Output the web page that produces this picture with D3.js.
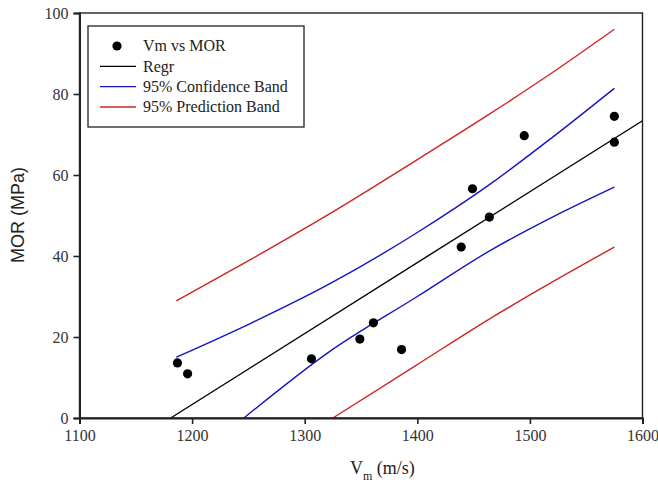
<!DOCTYPE html>
<html>
<head>
<meta charset="utf-8">
<script src="https://cdn.jsdelivr.net/npm/d3@7"></script>
<style>
  body { margin: 0; background: #fff; }
  svg { display: block; }
</style>
</head>
<body>
<div id="chart"></div>
<script>
// scatter points (Vm vs MOR)
const vm = [1187, 1196, 1306, 1349, 1361, 1386, 1439, 1449, 1464, 1495, 1575, 1575];
const mor = [13.6, 10.9, 14.6, 19.5, 23.5, 16.9, 42.2, 56.6, 49.6, 69.7, 74.5, 68.1];

// regression line, read at its two ends
const regrX = [1181, 1600];
const regrY = [0, 73.4];

// 95% confidence band
const confUpX = [1186, 1253, 1322, 1400, 1465, 1520, 1575];
const confUpY = [15.0, 23.5, 33.1, 45.8, 57.8, 69.3, 81.4];
const confLoX = [1246, 1322, 1400, 1465, 1520, 1575];
const confLoY = [0, 16.4, 30.0, 41.4, 49.6, 57.0];

// 95% prediction band
const predUpX = [1186, 1253, 1322, 1400, 1465, 1520, 1575];
const predUpY = [28.9, 39.3, 50.4, 63.8, 75.2, 85.3, 96.0];
const predLoX = [1325, 1400, 1465, 1520, 1575];
const predLoY = [0, 13.2, 24.6, 33.6, 42.2];

const xTicks = [1100, 1200, 1300, 1400, 1500, 1600];
const yTicks = [0, 20, 40, 60, 80, 100];

const legendItems = [
  { label: "Vm vs MOR", type: "dot", color: "#000" },
  { label: "Regr", type: "line", color: "#000" },
  { label: "95% Confidence Band", type: "line", color: "#1414c0" },
  { label: "95% Prediction Band", type: "line", color: "#d02424" }
];

const SERIF = "Liberation Serif";
const width = 658, height = 490;
const x = d3.scaleLinear().domain([1100, 1600]).range([79.5, 642.5]);
const y = d3.scaleLinear().domain([0, 100]).range([418, 13]);

const svg = d3.select("#chart").append("svg")
  .attr("width", width)
  .attr("height", height);

const line = d3.line().x(d => x(d[0])).y(d => y(d[1])).curve(d3.curveMonotoneX);

function drawSeries(xs, ys, color) {
  svg.append("path")
    .datum(d3.zip(xs, ys))
    .attr("fill", "none")
    .attr("stroke", color)
    .attr("stroke-width", 1.4)
    .attr("d", line);
}

drawSeries(predUpX, predUpY, "#d02424");
drawSeries(predLoX, predLoY, "#d02424");
drawSeries(confUpX, confUpY, "#1414c0");
drawSeries(confLoX, confLoY, "#1414c0");
drawSeries(regrX, regrY, "#000");

// points
svg.append("g")
  .selectAll("circle")
  .data(d3.zip(vm, mor))
  .join("circle")
  .attr("cx", d => x(d[0]))
  .attr("cy", d => y(d[1]))
  .attr("r", 4.6)
  .attr("fill", "#000");

// frame
svg.append("rect")
  .attr("x", x(1100)).attr("y", y(100))
  .attr("width", x(1600) - x(1100)).attr("height", y(0) - y(100))
  .attr("fill", "none").attr("stroke", "#222").attr("stroke-width", 1.4);

// axes
const xAxis = svg.append("g")
  .attr("transform", `translate(0,${y(0)})`)
  .call(d3.axisBottom(x).tickValues(xTicks).tickFormat(d3.format("d")).tickSize(6).tickPadding(6));
const yAxis = svg.append("g")
  .attr("transform", `translate(${x(1100)},0)`)
  .call(d3.axisLeft(y).tickValues(yTicks).tickFormat(d3.format("d")).tickSize(6).tickPadding(5));

[xAxis, yAxis].forEach(a => {
  a.attr("font-family", SERIF).attr("font-size", 16);
  a.select(".domain").attr("stroke", "#222").attr("stroke-width", 2);
  a.selectAll(".tick line").attr("stroke", "#222").attr("stroke-width", 1.6);
  a.selectAll(".tick text")
    .attr("fill", "#333")
    .attr("font-family", SERIF)
    .attr("font-size", 16);
});

// axis titles
const xt = svg.append("text")
  .attr("x", 350)
  .attr("y", 474)
  .attr("fill", "#222")
  .attr("font-family", SERIF)
  .attr("font-size", 18);
xt.append("tspan").text("V");
xt.append("tspan").attr("dy", 6).attr("font-size", 12).text("m");
xt.append("tspan").attr("dy", -6).text(" (m/s)");

svg.append("text")
  .attr("transform", "translate(24,215) rotate(-90)")
  .attr("text-anchor", "middle")
  .attr("fill", "#222")
  .attr("font-family", "Liberation Sans")
  .attr("font-size", 18)
  .text("MOR (MPa)");

// legend
const lg = svg.append("g");
lg.append("rect")
  .attr("x", 88).attr("y", 26).attr("width", 216).attr("height", 101)
  .attr("fill", "#fff").attr("stroke", "#222").attr("stroke-width", 1.3);

const rowY = d3.scalePoint().domain(legendItems.map(d => d.label)).range([46, 107]);
const rows = lg.selectAll("g.item")
  .data(legendItems)
  .join("g")
  .attr("transform", d => `translate(0,${rowY(d.label)})`);

rows.filter(d => d.type === "dot").append("circle")
  .attr("cx", 117).attr("cy", 0).attr("r", 4.6).attr("fill", d => d.color);
rows.filter(d => d.type === "line").append("line")
  .attr("x1", 100).attr("x2", 136).attr("y1", 0).attr("y2", 0)
  .attr("stroke", d => d.color).attr("stroke-width", 1.4);
rows.append("text")
  .attr("x", 143).attr("y", 0).attr("dy", "0.33em")
  .attr("fill", "#222")
  .attr("font-family", SERIF)
  .attr("font-size", 16)
  .text(d => d.label);
</script>
</body>
</html>
